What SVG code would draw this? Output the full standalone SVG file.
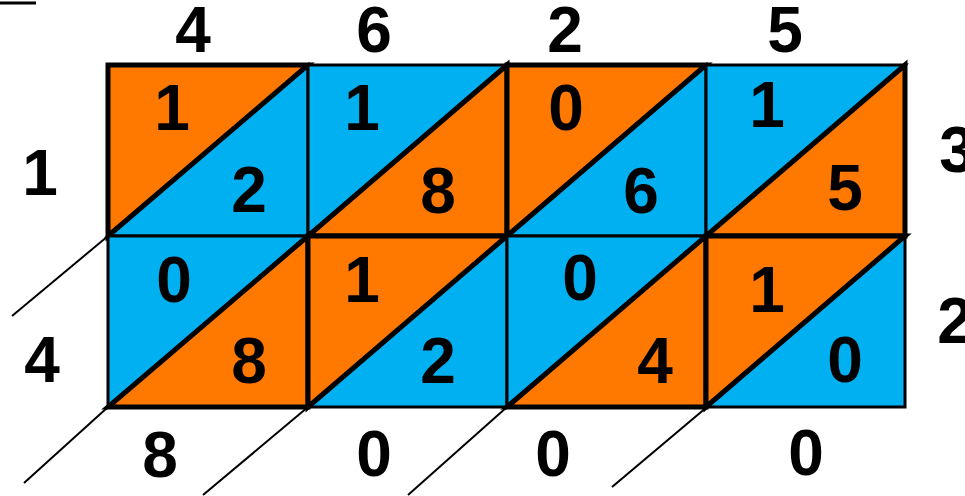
<svg xmlns="http://www.w3.org/2000/svg" width="965" height="496" viewBox="0 0 965 496">
<style>
.o{fill:#FF7800;stroke:#000;stroke-width:5;stroke-linejoin:miter}
.b{fill:#00B0F0;stroke:#000;stroke-width:3;stroke-linejoin:miter}
.t{font-family:"Liberation Sans",Arial,sans-serif;font-weight:bold;font-size:64px;fill:#000;text-anchor:middle}
.ext{stroke:#000;stroke-width:2;fill:none}
</style>
<rect width="965" height="496" fill="#fff"/>
<line x1="0" y1="3" x2="36" y2="3" stroke="#000" stroke-width="3"/>
<g id="labels">
<text class="t" x="193" y="52">4</text>
<text class="t" x="374" y="52">6</text>
<text class="t" x="565" y="52">2</text>
<text class="t" x="785" y="52">5</text>
<text class="t" x="40" y="195">1</text>
<text class="t" x="42" y="382">4</text>
<text class="t" x="957" y="172">3</text>
<text class="t" x="955" y="343">2</text>
<text class="t" x="160" y="477">8</text>
<text class="t" x="374" y="476">0</text>
<text class="t" x="553" y="476">0</text>
<text class="t" x="806" y="475">0</text>
</g>
<g id="connectors">
<line class="ext" x1="108" y1="236" x2="12" y2="316"/>
<line class="ext" x1="108" y1="407" x2="24" y2="483"/>
<line class="ext" x1="308" y1="407" x2="203" y2="495"/>
<line class="ext" x1="507" y1="407" x2="408" y2="495"/>
<line class="ext" x1="707" y1="407" x2="612" y2="487"/>
</g>
<g id="cell-1-1">
<polygon class="b" points="308,65 308,236 108,236"/>
<polygon class="o" points="108,65 308,65 108,236"/>
<text class="t" x="172" y="130">1</text>
<text class="t" x="249" y="212">2</text>
</g>
<g id="cell-1-2">
<polygon class="b" points="308,65 507,65 308,236"/>
<polygon class="o" points="507,65 507,236 308,236"/>
<text class="t" x="362" y="130">1</text>
<text class="t" x="438" y="213">8</text>
</g>
<g id="cell-1-3">
<polygon class="b" points="706,65 706,236 507,236"/>
<polygon class="o" points="507,65 706,65 507,236"/>
<text class="t" x="566" y="130">0</text>
<text class="t" x="641" y="213">6</text>
</g>
<g id="cell-1-4">
<polygon class="b" points="706,65 905,65 706,236"/>
<polygon class="o" points="905,65 905,236 706,236"/>
<text class="t" x="767" y="127">1</text>
<text class="t" x="845" y="210">5</text>
</g>
<g id="cell-2-1">
<polygon class="b" points="108,236 308,236 108,407"/>
<polygon class="o" points="308,236 308,407 108,407"/>
<text class="t" x="174" y="302">0</text>
<text class="t" x="249" y="383">8</text>
</g>
<g id="cell-2-2">
<polygon class="b" points="507,236 507,407 308,407"/>
<polygon class="o" points="308,236 507,236 308,407"/>
<text class="t" x="362" y="302">1</text>
<text class="t" x="438" y="383">2</text>
</g>
<g id="cell-2-3">
<polygon class="b" points="507,236 706,236 507,407"/>
<polygon class="o" points="706,236 706,407 507,407"/>
<text class="t" x="580" y="300">0</text>
<text class="t" x="655" y="383">4</text>
</g>
<g id="cell-2-4">
<polygon class="b" points="905,236 905,407 706,407"/>
<polygon class="o" points="706,236 905,236 706,407"/>
<text class="t" x="767" y="312">1</text>
<text class="t" x="845" y="382">0</text>
</g>
</svg>
